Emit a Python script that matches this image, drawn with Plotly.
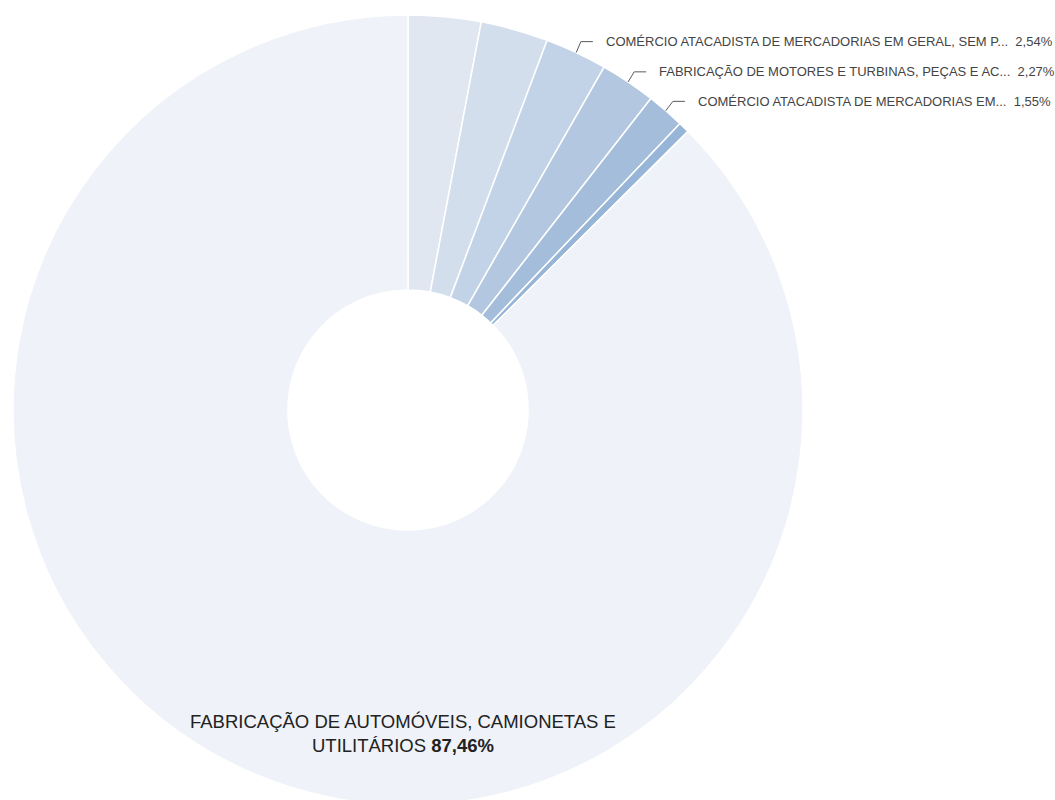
import math
import plotly.graph_objects as go

# Share of each economic activity (percent), drawn clockwise from 12 o'clock
atividades = [
    "COMÉRCIO A VAREJO DE AUTOMÓVEIS, CAMIONETAS E UTILITÁRIOS NOVOS",
    "FABRICAÇÃO DE CABINES, CARROCERIAS E REBOQUES PARA VEÍCULOS AUTOMOTORES",
    "COMÉRCIO ATACADISTA DE MERCADORIAS EM GERAL, SEM PREDOMINÂNCIA DE ALIMENTOS OU DE INSUMOS AGROPECUÁRIOS",
    "FABRICAÇÃO DE MOTORES E TURBINAS, PEÇAS E ACESSÓRIOS",
    "COMÉRCIO ATACADISTA DE MERCADORIAS EM GERAL",
    "OUTRAS ATIVIDADES",
    "FABRICAÇÃO DE AUTOMÓVEIS, CAMIONETAS E UTILITÁRIOS",
]
participacao = [2.97, 2.76, 2.54, 2.27, 1.55, 0.45, 87.46]

# Labels as they appear next to the slices (names shortened to fit)
rotulos_externos = {
    2: "COMÉRCIO ATACADISTA DE MERCADORIAS EM GERAL, SEM P...",
    3: "FABRICAÇÃO DE MOTORES E TURBINAS, PEÇAS E AC...",
    4: "COMÉRCIO ATACADISTA DE MERCADORIAS EM...",
}
rotulo_interno = {6: "FABRICAÇÃO DE AUTOMÓVEIS, CAMIONETAS E<br>UTILITÁRIOS"}

cores = ["#E0E7F1", "#D2DEEC", "#C2D3E7", "#B3C7E0", "#A4BDDB", "#97B5D7", "#EFF2F8"]

# Page / pie geometry in pixels
W, H = 1055, 820
CX, CY, R = 408, 410, 395
FONTE = "Liberation Sans, Arial, sans-serif"


def fmt(v):
    return f"{v:.2f}".replace(".", ",") + "%"


def px_to_paper(x, y):
    return x / W, 1 - y / H


fig = go.Figure(
    go.Pie(
        labels=atividades,
        values=participacao,
        hole=0.304,
        sort=False,
        direction="clockwise",
        rotation=0,
        textinfo="none",
        marker=dict(colors=cores, line=dict(color="white", width=1.5)),
        domain=dict(
            x=[(CX - R) / W, (CX + R) / W],
            y=[(H - CY - R) / H, (H - CY + R) / H],
        ),
        hovertemplate="%{label}<br>%{value:.2f}%<extra></extra>",
        showlegend=False,
    )
)

total = sum(participacao)
shapes, annotations = [], []
acum = 0.0
for i, v in enumerate(participacao):
    meio = (acum + v / 2) / total * 2 * math.pi
    acum += v
    if i in rotulos_externos:
        sx, sy = CX + R * math.sin(meio), CY - R * math.cos(meio)
        bx, by = CX + (R + 11) * math.sin(meio), CY - (R + 11) * math.cos(meio) - 1
        ex, ey = bx + 12, by
        p0, p1, p2 = px_to_paper(sx, sy), px_to_paper(bx, by), px_to_paper(ex, ey)
        shapes.append(dict(
            type="path", xref="paper", yref="paper",
            path=f"M {p0[0]},{p0[1]} L {p1[0]},{p1[1]} L {p2[0]},{p2[1]}",
            line=dict(color="#5a5a5a", width=1),
        ))
        tx, ty = px_to_paper(ex + 11, ey)
        annotations.append(dict(
            x=tx, y=ty, xref="paper", yref="paper", xanchor="left", yanchor="middle",
            text=f"{rotulos_externos[i]}  {fmt(v)}", showarrow=False,
            font=dict(family=FONTE, size=13, color="#444444"),
        ))
    if i in rotulo_interno:
        lx, ly = px_to_paper(403, 733)
        annotations.append(dict(
            x=lx, y=ly, xref="paper", yref="paper", xanchor="center", yanchor="middle",
            text=f"{rotulo_interno[i]} <b>{fmt(v)}</b>", showarrow=False,
            font=dict(family=FONTE, size=18.5, color="#222222"),
        ))

fig.update_layout(
    width=W, height=H,
    margin=dict(l=0, r=0, t=0, b=0),
    paper_bgcolor="white",
    plot_bgcolor="white",
    shapes=shapes,
    annotations=annotations,
)

fig.write_html(
    "out.html",
    post_script="document.body.style.margin='0';document.body.style.overflow='hidden';",
)
